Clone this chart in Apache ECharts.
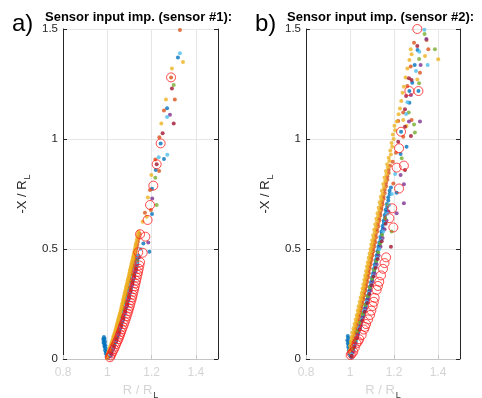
<!DOCTYPE html>
<html><head><meta charset="utf-8">
<script src="https://cdn.jsdelivr.net/npm/echarts@6/dist/echarts.min.js"></script>
<style>html,body{margin:0;padding:0;background:#fff}#c{width:482px;height:398px}</style>
</head><body><div id="c"></div>
<script>
// ---- tick labels ----
const xTicks = [0.8, 1, 1.2, 1.4];
const xMax = 1.5;
const yTicks = [0, 0.5, 1, 1.5];

const panelTitles = ['Sensor input imp. (sensor #1):', 'Sensor input imp. (sensor #2):'];
const panelTags = ['a)', 'b)'];

// ---- panel a) data: [R/RL, -X/RL] ----
const a_blue = [[0.985,0.100],[0.988,0.092],[0.984,0.085],[0.990,0.078],[0.986,0.070],[0.991,0.062],[0.988,0.055],[0.993,0.048],[0.990,0.040],[0.995,0.033],[0.993,0.025],[0.998,0.018],[0.997,0.010],[1.002,0.005],[0.982,0.092],[0.983,0.075],[0.987,0.060],
 [1.010,0.012],[1.016,0.028],[1.022,0.044],[1.028,0.060],[1.034,0.076],[1.040,0.092],[1.046,0.108],[1.051,0.124],[1.056,0.140],[1.061,0.156],[1.066,0.172],[1.070,0.188],[1.075,0.204],[1.079,0.220],[1.084,0.236],[1.088,0.252],[1.092,0.268],[1.096,0.284],[1.100,0.300],[1.104,0.316],[1.108,0.332],[1.112,0.348],[1.116,0.364],[1.119,0.380],[1.123,0.396],[1.127,0.412],[1.131,0.430],[1.135,0.450],[1.140,0.470],[1.190,0.488],[1.163,0.525],[1.202,0.659],[1.202,0.774],[1.219,0.859],[1.256,0.909],[1.241,0.980],[1.270,1.140],[1.319,1.370]];
const a_blue2 = [[1.015,0.020],[1.021,0.036],[1.027,0.052],[1.033,0.068],[1.039,0.084],[1.045,0.100],[1.050,0.116],[1.055,0.132],[1.060,0.148],[1.065,0.164],[1.070,0.180],[1.074,0.196],[1.079,0.212],[1.083,0.228],[1.088,0.244],[1.092,0.260],[1.096,0.276],[1.100,0.292],[1.104,0.308],[1.108,0.324],[1.112,0.340],[1.116,0.356],[1.120,0.372],[1.123,0.388],[1.127,0.404],[1.131,0.421],[1.135,0.440],[1.139,0.460]];
const a_orange = [[1.003,0.010],[1.008,0.028],[1.013,0.043],[1.018,0.058],[1.023,0.073],[1.028,0.088],[1.033,0.103],[1.037,0.118],[1.042,0.133],[1.046,0.148],[1.050,0.163],[1.054,0.178],[1.058,0.193],[1.062,0.208],[1.066,0.223],[1.070,0.238],[1.073,0.253],[1.077,0.268],[1.080,0.283],[1.084,0.298],[1.087,0.313],[1.091,0.328],[1.094,0.343],[1.098,0.358],[1.101,0.373],[1.105,0.388],[1.108,0.403],[1.112,0.418],[1.115,0.433],[1.119,0.448],[1.122,0.463],[1.126,0.480],[1.130,0.500],[1.135,0.522],[1.140,0.545],[1.146,0.570],[1.170,0.665],[1.197,0.677],[1.193,0.768],[1.217,0.907],[1.234,0.855],[1.235,1.008],[1.256,1.130],[1.305,1.180],[1.288,1.280],[1.328,1.495]];
const a_orange2 = [[1.006,0.019],[1.011,0.036],[1.016,0.051],[1.021,0.066],[1.026,0.081],[1.031,0.096],[1.035,0.111],[1.040,0.126],[1.044,0.141],[1.048,0.156],[1.052,0.171],[1.056,0.186],[1.060,0.201],[1.064,0.216],[1.068,0.231],[1.072,0.246],[1.075,0.261],[1.079,0.276],[1.082,0.291],[1.086,0.306],[1.089,0.321],[1.093,0.336],[1.096,0.351],[1.100,0.366],[1.103,0.381],[1.107,0.396],[1.110,0.411],[1.114,0.426],[1.117,0.441],[1.121,0.456],[1.124,0.471],[1.128,0.490],[1.133,0.511],[1.138,0.533],[1.143,0.557]];
const a_yellow = [[0.998,0.005],[1.002,0.020],[1.007,0.035],[1.012,0.050],[1.017,0.065],[1.022,0.080],[1.027,0.095],[1.031,0.110],[1.036,0.125],[1.040,0.140],[1.044,0.155],[1.048,0.170],[1.052,0.185],[1.056,0.200],[1.060,0.215],[1.064,0.230],[1.067,0.245],[1.071,0.260],[1.074,0.275],[1.078,0.290],[1.081,0.305],[1.085,0.320],[1.088,0.335],[1.092,0.350],[1.095,0.365],[1.099,0.380],[1.102,0.395],[1.105,0.410],[1.109,0.425],[1.112,0.440],[1.116,0.455],[1.119,0.470],[1.123,0.490],[1.127,0.510],[1.131,0.530],[1.136,0.555],[1.141,0.580],[1.160,0.624],[1.178,0.647],[1.183,0.734],[1.199,0.836],[1.244,1.071],[1.265,1.180],[1.292,1.320],[1.342,1.350]];
const a_yellow2 = [[1.000,0.013],[1.004,0.028],[1.009,0.043],[1.014,0.058],[1.019,0.073],[1.024,0.088],[1.028,0.103],[1.033,0.118],[1.037,0.133],[1.041,0.148],[1.045,0.163],[1.049,0.178],[1.053,0.193],[1.057,0.208],[1.061,0.223],[1.064,0.238],[1.068,0.253],[1.071,0.268],[1.075,0.283],[1.078,0.298],[1.082,0.313],[1.085,0.328],[1.089,0.343],[1.092,0.358],[1.096,0.373],[1.099,0.388],[1.102,0.403],[1.106,0.418],[1.109,0.433],[1.113,0.448],[1.116,0.463],[1.120,0.480],[1.124,0.500],[1.128,0.520],[1.133,0.542],[1.138,0.567]];
const a_purple = [[1.016,0.015],[1.028,0.047],[1.040,0.079],[1.051,0.111],[1.061,0.143],[1.070,0.175],[1.079,0.207],[1.088,0.239],[1.096,0.271],[1.104,0.303],[1.112,0.335],[1.120,0.367],[1.128,0.399],[1.136,0.431],[1.144,0.463],[1.185,0.529],[1.203,0.730],[1.283,1.110]];
const a_green = [[1.014,0.030],[1.026,0.062],[1.038,0.094],[1.049,0.126],[1.059,0.158],[1.068,0.190],[1.077,0.222],[1.086,0.254],[1.094,0.286],[1.102,0.318],[1.110,0.350],[1.118,0.382],[1.126,0.414],[1.134,0.446],[1.223,0.700],[1.217,0.824],[1.300,1.245]];
const a_cyan = [[1.012,0.020],[1.024,0.052],[1.036,0.084],[1.047,0.116],[1.057,0.148],[1.066,0.180],[1.075,0.212],[1.084,0.244],[1.092,0.276],[1.100,0.308],[1.108,0.340],[1.116,0.372],[1.124,0.404],[1.132,0.436],[1.140,0.468],[1.150,0.500],[1.232,0.917],[1.271,0.928],[1.270,1.100],[1.328,1.390]];
const a_darkred = [[1.018,0.025],[1.030,0.057],[1.042,0.089],[1.053,0.121],[1.063,0.153],[1.072,0.185],[1.081,0.217],[1.090,0.249],[1.098,0.281],[1.106,0.313],[1.114,0.345],[1.122,0.377],[1.130,0.409],[1.223,0.885],[1.250,1.026],[1.300,1.071],[1.292,1.230]];
const a_circles = [[1.012,0.008],[1.016,0.016],[1.020,0.025],[1.025,0.035],[1.030,0.045],[1.035,0.056],[1.040,0.068],[1.045,0.079],[1.050,0.090],[1.054,0.101],[1.058,0.112],[1.062,0.123],[1.066,0.135],[1.070,0.146],[1.075,0.158],[1.079,0.170],[1.083,0.182],[1.087,0.194],[1.091,0.206],[1.095,0.218],[1.098,0.230],[1.102,0.242],[1.105,0.255],[1.109,0.268],[1.112,0.280],[1.115,0.292],[1.118,0.305],[1.121,0.318],[1.124,0.330],[1.127,0.343],[1.130,0.356],[1.133,0.370],[1.136,0.383],[1.139,0.396],[1.142,0.410],[1.145,0.425],[1.148,0.440],[1.140,0.485],[1.160,0.483],[1.148,0.567],[1.172,0.556],[1.182,0.632],[1.193,0.700],[1.208,0.788],[1.223,0.885],[1.241,0.980],[1.288,1.280]];

// ---- panel b) data ----
const b_blue = [[0.990,0.105],[0.992,0.095],[0.988,0.085],[0.994,0.080],[0.990,0.070],[0.995,0.062],[0.992,0.055],[0.997,0.048],[0.995,0.040],[0.999,0.032],[0.998,0.025],[1.002,0.018],[1.004,0.012],[1.007,0.008],
 [1.010,0.030],[1.015,0.050],[1.021,0.070],[1.027,0.090],[1.033,0.110],[1.039,0.130],[1.045,0.150],[1.051,0.170],[1.056,0.190],[1.062,0.210],[1.067,0.230],[1.072,0.250],[1.077,0.270],[1.082,0.290],[1.087,0.310],[1.091,0.330],[1.096,0.350],[1.100,0.370],[1.105,0.390],[1.109,0.410],[1.113,0.430],[1.117,0.450],[1.121,0.470],[1.125,0.490],[1.129,0.510],[1.133,0.530],[1.138,0.555],[1.143,0.580],[1.148,0.605],[1.153,0.630],[1.158,0.655],[1.163,0.680],[1.168,0.705],[1.174,0.735],[1.180,0.765],[1.212,0.756],[1.230,0.932],[1.257,0.965],[1.232,1.033],[1.270,1.165],[1.270,1.218],[1.283,1.256],[1.294,1.336],[1.307,1.405],[1.311,1.218]];
const b_blue2 = [[1.015,0.040],[1.020,0.060],[1.026,0.080],[1.032,0.100],[1.038,0.120],[1.044,0.140],[1.050,0.160],[1.056,0.180],[1.061,0.200],[1.067,0.220],[1.072,0.240],[1.077,0.260],[1.082,0.280],[1.087,0.300],[1.092,0.320],[1.096,0.340],[1.101,0.360],[1.105,0.380],[1.110,0.400],[1.114,0.420],[1.118,0.440],[1.122,0.460],[1.126,0.480],[1.130,0.500],[1.134,0.520],[1.139,0.542],[1.144,0.568],[1.149,0.592],[1.154,0.618],[1.159,0.642],[1.164,0.668],[1.169,0.692],[1.174,0.720],[1.180,0.750],[1.186,0.780]];
const b_orange = [[1.003,0.040],[1.007,0.060],[1.011,0.080],[1.016,0.100],[1.021,0.120],[1.026,0.140],[1.031,0.160],[1.036,0.180],[1.041,0.200],[1.046,0.220],[1.050,0.240],[1.055,0.260],[1.059,0.280],[1.064,0.300],[1.068,0.320],[1.072,0.340],[1.076,0.360],[1.080,0.380],[1.084,0.400],[1.088,0.420],[1.092,0.440],[1.096,0.460],[1.100,0.480],[1.104,0.500],[1.108,0.520],[1.112,0.540],[1.117,0.565],[1.122,0.590],[1.127,0.615],[1.132,0.640],[1.137,0.665],[1.142,0.690],[1.147,0.715],[1.152,0.740],[1.158,0.770],[1.164,0.800],[1.170,0.830],[1.176,0.860],[1.194,0.897],[1.209,0.938],[1.197,0.798],[1.219,1.082],[1.242,1.010],[1.242,1.120],[1.261,1.241],[1.276,1.329],[1.291,1.438],[1.318,1.301],[1.348,1.450],[1.356,1.408],[1.280,1.086]];
const b_orange2 = [[1.008,0.050],[1.012,0.070],[1.017,0.090],[1.022,0.110],[1.027,0.130],[1.032,0.150],[1.037,0.170],[1.042,0.190],[1.047,0.210],[1.052,0.230],[1.056,0.250],[1.061,0.270],[1.065,0.290],[1.070,0.310],[1.074,0.330],[1.078,0.350],[1.082,0.370],[1.086,0.390],[1.090,0.410],[1.094,0.430],[1.098,0.450],[1.102,0.470],[1.106,0.490],[1.110,0.510],[1.114,0.530],[1.118,0.552],[1.123,0.578],[1.128,0.602],[1.133,0.628],[1.138,0.652],[1.143,0.678],[1.148,0.702],[1.153,0.728],[1.158,0.755],[1.164,0.785],[1.170,0.815],[1.176,0.845],[1.182,0.878]];
const b_yellow = [[1.000,0.030],[1.003,0.050],[1.006,0.070],[1.010,0.090],[1.015,0.110],[1.019,0.130],[1.024,0.150],[1.029,0.170],[1.033,0.190],[1.038,0.210],[1.043,0.230],[1.047,0.250],[1.052,0.270],[1.056,0.290],[1.060,0.310],[1.064,0.330],[1.068,0.350],[1.072,0.370],[1.076,0.390],[1.080,0.410],[1.084,0.430],[1.088,0.450],[1.092,0.470],[1.096,0.490],[1.100,0.510],[1.104,0.530],[1.108,0.550],[1.113,0.575],[1.118,0.600],[1.123,0.625],[1.128,0.650],[1.133,0.675],[1.138,0.700],[1.143,0.725],[1.148,0.750],[1.154,0.780],[1.160,0.810],[1.166,0.840],[1.172,0.870],[1.179,0.900],[1.186,0.930],[1.192,0.965],[1.198,1.000],[1.205,1.040],[1.213,1.080],[1.221,1.112],[1.227,1.139],[1.233,1.173],[1.239,1.210],[1.245,1.238],[1.253,1.280],[1.261,1.321],[1.270,1.359],[1.280,1.385],[1.276,1.408],[1.341,1.377],[1.401,1.362],[1.306,1.271],[1.242,1.086],[1.257,1.059]];
const b_yellow2 = [[0.998,0.040],[1.000,0.060],[1.003,0.080],[1.007,0.100],[1.011,0.120],[1.016,0.140],[1.021,0.160],[1.026,0.180],[1.030,0.200],[1.035,0.220],[1.039,0.240],[1.044,0.260],[1.048,0.280],[1.053,0.300],[1.057,0.320],[1.061,0.340],[1.065,0.360],[1.069,0.380],[1.073,0.400],[1.077,0.420],[1.081,0.440],[1.085,0.460],[1.089,0.480],[1.093,0.500],[1.097,0.520],[1.101,0.540],[1.105,0.562],[1.110,0.588],[1.115,0.612],[1.120,0.638],[1.125,0.662],[1.130,0.688],[1.135,0.712],[1.140,0.738],[1.145,0.765],[1.151,0.795],[1.157,0.825],[1.163,0.855],[1.169,0.885],[1.176,0.915],[1.183,0.948],[1.189,0.982],[1.195,1.020],[1.202,1.060]];
const b_purple = [[1.012,0.030],[1.024,0.070],[1.036,0.110],[1.048,0.150],[1.060,0.190],[1.071,0.230],[1.082,0.270],[1.092,0.310],[1.102,0.350],[1.112,0.390],[1.121,0.430],[1.130,0.470],[1.139,0.510],[1.148,0.550],[1.157,0.590],[1.166,0.630],[1.175,0.670],[1.212,0.662],[1.245,0.708],[1.245,0.794],[1.230,0.836],[1.268,1.079],[1.318,1.079],[1.277,1.200],[1.321,1.336],[1.347,1.455]];
const b_green = [[1.010,0.045],[1.022,0.085],[1.034,0.125],[1.046,0.165],[1.058,0.205],[1.069,0.245],[1.080,0.285],[1.090,0.325],[1.100,0.365],[1.110,0.405],[1.119,0.445],[1.128,0.485],[1.137,0.525],[1.146,0.565],[1.189,0.579],[1.160,0.640],[1.172,0.700],[1.235,0.912],[1.295,1.029],[1.291,1.066],[1.267,1.120],[1.314,1.253],[1.314,1.364],[1.386,1.408],[1.339,1.477]];
const b_cyan = [[1.006,0.020],[1.018,0.060],[1.030,0.100],[1.042,0.140],[1.054,0.180],[1.065,0.220],[1.076,0.260],[1.086,0.300],[1.096,0.340],[1.106,0.380],[1.115,0.420],[1.124,0.460],[1.133,0.500],[1.142,0.540],[1.151,0.580],[1.160,0.620],[1.169,0.660],[1.178,0.700],[1.190,0.750],[1.205,0.841],[1.255,1.114],[1.261,1.167],[1.300,1.309],[1.315,1.397],[1.353,1.336],[1.338,1.497]];
const b_darkred = [[1.008,0.015],[1.020,0.055],[1.032,0.095],[1.044,0.135],[1.056,0.175],[1.067,0.215],[1.078,0.255],[1.088,0.295],[1.098,0.335],[1.108,0.375],[1.117,0.415],[1.126,0.455],[1.186,0.510],[1.144,0.535],[1.162,0.615],[1.250,0.859],[1.219,0.988],[1.277,1.014],[1.250,1.056],[1.250,1.135],[1.255,1.195],[1.268,1.276],[1.280,1.268],[1.306,1.423]];
const b_circles = [[1.003,0.018],[1.008,0.025],[1.015,0.033],[1.022,0.052],[1.030,0.071],[1.036,0.080],[1.042,0.090],[1.053,0.109],[1.063,0.134],[1.068,0.146],[1.073,0.159],[1.082,0.180],[1.091,0.200],[1.097,0.220],[1.103,0.241],[1.108,0.260],[1.112,0.278],[1.121,0.314],[1.127,0.332],[1.133,0.351],[1.141,0.380],[1.150,0.410],[1.157,0.436],[1.164,0.462],[1.197,0.598],[1.179,0.640],[1.192,0.685],[1.223,0.775],[1.212,0.870],[1.245,0.879],[1.223,0.958],[1.232,1.033],[1.270,1.218],[1.311,1.218],[1.306,1.500]];

// ---- styles ----
const C = {blue:'#0072BD', orange:'#D95319', yellow:'#EDB120', purple:'#7E2F8E', green:'#77AC30', cyan:'#4DBEEE', darkred:'#A2142F', ring:'#FF1F1F'};
const FONT = '"Liberation Sans", Arial, Helvetica, sans-serif';
const DARK = '#262626';

const panels = [
  {left:63, width:155, sets:[[a_blue,'blue'],[a_blue2,'blue'],[a_orange,'orange'],[a_orange2,'orange'],[a_yellow,'yellow'],[a_yellow2,'yellow'],[a_purple,'purple'],[a_green,'green'],[a_cyan,'cyan'],[a_darkred,'darkred']], rings:a_circles},
  {left:306, width:154, sets:[[b_blue,'blue'],[b_blue2,'blue'],[b_orange,'orange'],[b_orange2,'orange'],[b_yellow,'yellow'],[b_yellow2,'yellow'],[b_purple,'purple'],[b_green,'green'],[b_cyan,'cyan'],[b_darkred,'darkred']], rings:b_circles}
];

const grid=[], xAxis=[], yAxis=[], series=[];
panels.forEach((p,i)=>{
  grid.push({left:p.left, top:29, width:p.width, height:330, containLabel:false, outerBoundsMode:'none'});
  xAxis.push({type:'value', gridIndex:i, min:xTicks[0], max:xMax, interval:xTicks[1]-xTicks[0],
    axisLine:{show:true, lineStyle:{color:'#c4c4c4', width:1}},
    axisTick:{show:true, inside:true, length:4, lineStyle:{color:'#c4c4c4'}},
    axisLabel:{color:'#d4d4d4', fontSize:12, fontFamily:FONT, margin:8, showMaxLabel:false,
      formatter:v=> xTicks.some(t=>Math.abs(t-v)<1e-9) ? String(+v.toFixed(2)) : ''},
    splitLine:{show:true, lineStyle:{color:'#e6e6e6', width:1}},
    name:'{a|R / R}{s|L}', nameLocation:'middle', nameGap:21,
    nameTextStyle:{rich:{a:{color:'#d4d4d4', fontSize:13, fontFamily:FONT, verticalAlign:'top'},
                         s:{color:'#333', fontSize:9, fontFamily:FONT, verticalAlign:'top', padding:[7,0,0,1]}}}
  });
  yAxis.push({type:'value', gridIndex:i, min:yTicks[0], max:yTicks[yTicks.length-1], interval:yTicks[1]-yTicks[0],
    axisLine:{show:true, lineStyle:{color:DARK, width:1}},
    axisTick:{show:true, inside:true, length:4, lineStyle:{color:DARK}},
    axisLabel:{color:DARK, fontSize:11.5, fontFamily:FONT, margin:5},
    splitLine:{show:true, lineStyle:{color:'#e6e6e6', width:1}},
    name:'{a|-X / R}{s|L}', nameLocation:'middle', nameGap:31,
    nameTextStyle:{rich:{a:{color:DARK, fontSize:13, fontFamily:FONT, verticalAlign:'top'},
                         s:{color:DARK, fontSize:9, fontFamily:FONT, verticalAlign:'top', padding:[7,0,0,1]}}}
  });
  yAxis.push({type:'value', gridIndex:i, position:'right', min:yTicks[0], max:yTicks[yTicks.length-1], interval:yTicks[1]-yTicks[0],
    axisLine:{show:true, lineStyle:{color:DARK, width:1}},
    axisTick:{show:true, inside:true, length:4, lineStyle:{color:DARK}},
    axisLabel:{show:false}, splitLine:{show:false}
  });
  p.sets.forEach(([d,col])=>{
    series.push({type:'scatter', xAxisIndex:i, yAxisIndex:i*2, data:d, symbol:'circle', symbolSize:4,
      itemStyle:{color:C[col]}, silent:true, clip:true});
  });
  series.push({type:'scatter', xAxisIndex:i, yAxisIndex:i*2, data:p.rings, symbol:'circle', symbolSize:9,
    itemStyle:{color:'rgba(0,0,0,0)', borderColor:C.ring, borderWidth:1}, silent:true, clip:false});
});

const graphic = [];
[[12,45],[255,287]].forEach((pos,i)=>{
  graphic.push({type:'text', x:pos[0], y:24, style:{text:panelTags[i], font:'24px '+FONT, fill:'#000', verticalAlign:'middle'}});
  graphic.push({type:'text', x:pos[1], y:17, style:{text:panelTitles[i], font:'bold 13px '+FONT, fill:'#000', verticalAlign:'middle'}});
});

const chart = echarts.init(document.getElementById('c'), null, {renderer:'canvas'});
chart.setOption({animation:false, backgroundColor:'#fff', grid, xAxis, yAxis, series, graphic});
</script></body></html>
